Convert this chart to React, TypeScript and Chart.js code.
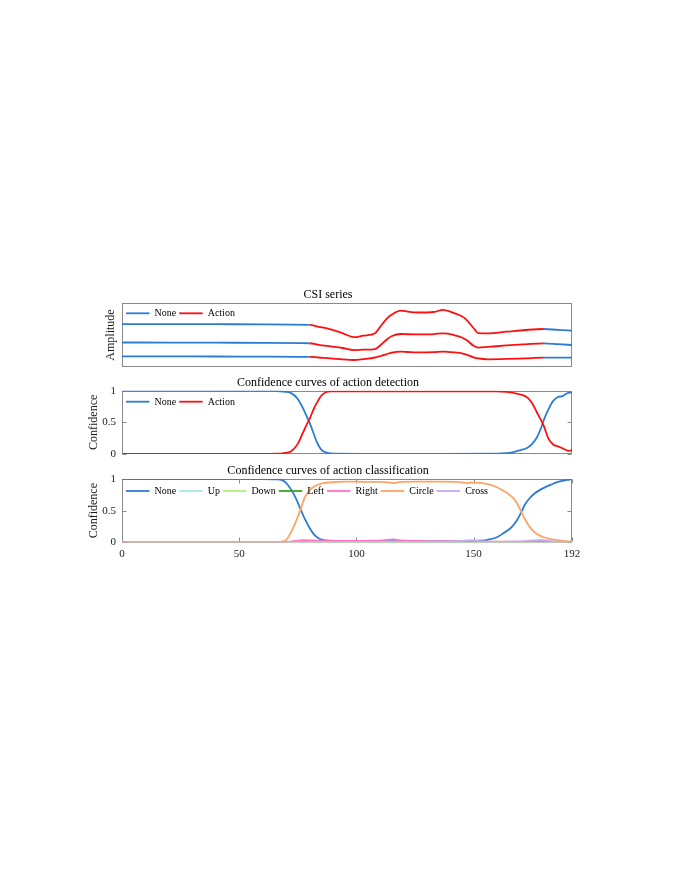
import React, { useEffect, useRef } from 'react';
import { Chart, registerables } from 'chart.js';

Chart.register(...registerables);

// ---------------- data ----------------
const X_MIN = 0;
const X_MAX = 192;
const X_TICKS = [0, 50, 100, 150, 192];
const Y_TICKS = [0, 0.5, 1];
const Y_TICK_LABELS = ['0', '0.5', '1'];

const ACTION_START = 80;
const ACTION_END = 180;

const CSI_X = [0, 20, 40, 60, 80, 84, 89, 94, 99, 103, 108, 110, 113, 115, 119, 122, 126, 133, 137, 139, 142, 145, 147, 150, 152, 156, 164, 172, 180, 186, 192];
const CSI_TOP = [6.73, 6.72, 6.7, 6.68, 6.6, 6.3, 5.9, 5.3, 4.66, 4.9, 5.27, 6.2, 7.6, 8.2, 8.85, 8.68, 8.55, 8.63, 8.95, 8.8, 8.4, 7.95, 7.4, 6.1, 5.3, 5.27, 5.52, 5.79, 5.95, 5.8, 5.68];
const CSI_MID = [3.82, 3.81, 3.79, 3.76, 3.7, 3.45, 3.2, 2.95, 2.63, 2.68, 2.79, 3.3, 4.3, 4.8, 5.16, 5.12, 5.1, 5.15, 5.27, 5.22, 4.95, 4.6, 4.2, 3.3, 3.02, 3.12, 3.35, 3.53, 3.69, 3.55, 3.42];
const CSI_BOT = [1.64, 1.63, 1.61, 1.6, 1.56, 1.45, 1.32, 1.15, 1.06, 1.2, 1.45, 1.65, 2.0, 2.2, 2.37, 2.32, 2.27, 2.3, 2.37, 2.35, 2.25, 2.12, 1.9, 1.48, 1.3, 1.17, 1.22, 1.32, 1.42, 1.42, 1.42];

const DET_X = [0, 20, 40, 60, 66, 69, 72, 75, 77, 79, 80, 82, 83, 85, 87, 89, 92, 100, 120, 140, 160, 164, 167, 170, 173, 175, 177, 179, 180, 182, 184, 186, 188, 190, 191, 192];
const DET_NONE = [1, 1, 1, 0.998, 0.995, 0.985, 0.965, 0.87, 0.74, 0.58, 0.5, 0.3, 0.2, 0.07, 0.025, 0.01, 0.005, 0.003, 0.003, 0.003, 0.006, 0.012, 0.03, 0.06, 0.1, 0.16, 0.26, 0.43, 0.54, 0.71, 0.84, 0.9, 0.915, 0.96, 0.97, 0.975];
const DET_ACTION = [0, 0, 0, 0.002, 0.005, 0.015, 0.04, 0.16, 0.32, 0.48, 0.55, 0.73, 0.8, 0.92, 0.975, 0.99, 0.99, 0.99, 0.99, 0.99, 0.99, 0.98, 0.965, 0.94, 0.89, 0.8, 0.66, 0.52, 0.44, 0.24, 0.15, 0.12, 0.09, 0.055, 0.05, 0.06];

const CLS_X = [0, 20, 40, 60, 66, 68, 70, 72, 74, 76, 78, 80, 82, 84, 86, 88, 92, 96, 100, 105, 110, 114, 116, 118, 125, 135, 143, 147, 149, 152, 156, 160, 163, 166, 168, 170, 172, 174, 176, 178, 180, 183, 186, 189, 191, 192];
const CLS_NONE = [1, 1, 1, 1, 0.995, 0.985, 0.94, 0.84, 0.71, 0.54, 0.37, 0.23, 0.12, 0.06, 0.035, 0.025, 0.02, 0.02, 0.02, 0.02, 0.02, 0.02, 0.02, 0.02, 0.015, 0.015, 0.015, 0.015, 0.018, 0.025, 0.04, 0.08, 0.15, 0.23, 0.32, 0.45, 0.6, 0.7, 0.77, 0.82, 0.86, 0.91, 0.955, 0.98, 0.99, 1.0];
const CLS_UP = [0.004, 0.004, 0.004, 0.004, 0.004, 0.004, 0.004, 0.004, 0.004, 0.004, 0.004, 0.004, 0.004, 0.004, 0.004, 0.004, 0.004, 0.004, 0.004, 0.004, 0.004, 0.004, 0.004, 0.004, 0.004, 0.004, 0.004, 0.004, 0.004, 0.004, 0.004, 0.004, 0.004, 0.004, 0.004, 0.004, 0.004, 0.004, 0.004, 0.004, 0.004, 0.004, 0.004, 0.004, 0.004, 0.004];
const CLS_DOWN = [0.002, 0.002, 0.002, 0.002, 0.002, 0.002, 0.002, 0.002, 0.002, 0.002, 0.002, 0.002, 0.002, 0.002, 0.002, 0.002, 0.002, 0.002, 0.002, 0.002, 0.002, 0.002, 0.002, 0.002, 0.002, 0.002, 0.002, 0.002, 0.002, 0.002, 0.002, 0.002, 0.002, 0.002, 0.002, 0.002, 0.002, 0.002, 0.002, 0.002, 0.002, 0.002, 0.002, 0.002, 0.002, 0.002];
const CLS_LEFT = [0, 0, 0, 0, 0, 0, 0, 0, 0, 0, 0, 0, 0, 0, 0, 0, 0, 0, 0, 0, 0, 0, 0, 0, 0, 0, 0, 0, 0, 0, 0, 0, 0, 0, 0, 0, 0, 0, 0, 0, 0, 0, 0, 0, 0, 0];
const CLS_RIGHT = [0, 0, 0, 0, 0, 0.002, 0.005, 0.012, 0.022, 0.03, 0.033, 0.03, 0.028, 0.026, 0.025, 0.025, 0.024, 0.022, 0.022, 0.024, 0.028, 0.042, 0.045, 0.033, 0.022, 0.018, 0.015, 0.012, 0.012, 0.01, 0.01, 0.012, 0.012, 0.012, 0.01, 0.01, 0.01, 0.01, 0.01, 0.01, 0.008, 0.008, 0.006, 0.005, 0.005, 0.005];
const CLS_CIRCLE = [0, 0, 0, 0, 0.002, 0.01, 0.035, 0.15, 0.31, 0.5, 0.71, 0.82, 0.88, 0.915, 0.935, 0.945, 0.955, 0.957, 0.957, 0.955, 0.955, 0.945, 0.935, 0.95, 0.957, 0.957, 0.955, 0.935, 0.945, 0.94, 0.92, 0.87, 0.81, 0.73, 0.65, 0.51, 0.36, 0.24, 0.16, 0.11, 0.08, 0.05, 0.035, 0.02, 0.015, 0.015];
const CLS_CROSS = [0.004, 0.004, 0.004, 0.004, 0.004, 0.004, 0.004, 0.005, 0.006, 0.006, 0.006, 0.006, 0.006, 0.006, 0.006, 0.006, 0.006, 0.006, 0.006, 0.006, 0.008, 0.01, 0.01, 0.008, 0.006, 0.008, 0.015, 0.03, 0.035, 0.02, 0.01, 0.008, 0.008, 0.01, 0.012, 0.015, 0.02, 0.025, 0.03, 0.035, 0.035, 0.02, 0.012, 0.008, 0.006, 0.006];

const CLASS_LABELS = ['None', 'Up', 'Down', 'Left', 'Right', 'Circle', 'Cross'];
const DET_LABELS = ['None', 'Action'];

// ---------------- styles ----------------
const FONT = "'Liberation Serif', 'Times New Roman', Times, serif";
const BLUE = '#2d7cd4';
const RED = '#ff1010';
const UP_C = '#a8e6e2';
const DOWN_C = '#b4ef78';
const LEFT_C = '#36a420';
const RIGHT_C = '#ff72c6';
const CIRCLE_C = '#ffa464';
const CROSS_C = '#caa8f6';
const CLASS_COLORS = [BLUE, UP_C, DOWN_C, LEFT_C, RIGHT_C, CIRCLE_C, CROSS_C];
const BOX_COLOR = '#8a8a8a';
const TEXT_COLOR = '#1a1a1a';
const LINE_W = 1.8;
const TICK_LEN = 4;

const W = 676;

const pts = (xs: number[], ys: number[]) => xs.map((x, i) => ({ x, y: ys[i] }));

function framePlugin(xMarks: number[], yMarks: number[]) {
  return {
    id: 'frame',
    beforeDatasetsDraw(chart: any) {
      const { ctx, chartArea: a, scales } = chart;
      ctx.save();
      ctx.strokeStyle = BOX_COLOR;
      ctx.lineWidth = 1;
      const l = Math.round(a.left) + 0.5;
      const r = Math.round(a.right) - 0.5;
      const t = Math.round(a.top) + 0.5;
      const b = Math.round(a.bottom) - 0.5;
      ctx.strokeRect(l, t, r - l, b - t);
      ctx.beginPath();
      xMarks.forEach((v) => {
        const px = Math.round(scales.x.getPixelForValue(v)) + 0.5;
        ctx.moveTo(px, b);
        ctx.lineTo(px, b - TICK_LEN);
        ctx.moveTo(px, t);
        ctx.lineTo(px, t + TICK_LEN);
      });
      yMarks.forEach((v) => {
        const py = Math.round(scales.y.getPixelForValue(v)) + 0.5;
        ctx.moveTo(l, py);
        ctx.lineTo(l + TICK_LEN, py);
        ctx.moveTo(r, py);
        ctx.lineTo(r - TICK_LEN, py);
      });
      ctx.stroke();
      ctx.restore();
    },
  };
}

function legendPlugin(items: { text: string; color: string }[], dy: number) {
  return {
    id: 'inLegend',
    afterDatasetsDraw(chart: any) {
      const { ctx, chartArea: a } = chart;
      ctx.save();
      ctx.font = `10px ${FONT}`;
      ctx.textBaseline = 'middle';
      ctx.textAlign = 'left';
      let x = a.left + 4;
      const y = a.top + dy;
      items.forEach((it) => {
        ctx.strokeStyle = it.color;
        ctx.lineWidth = LINE_W;
        ctx.beginPath();
        ctx.moveTo(x, y);
        ctx.lineTo(x + 23.5, y);
        ctx.stroke();
        ctx.fillStyle = '#000';
        ctx.fillText(it.text, x + 28.5, y + 0.5);
        x += 23.5 + 5 + ctx.measureText(it.text).width + 3;
      });
      ctx.restore();
    },
  };
}

const lineDefaults = {
  pointRadius: 0,
  borderWidth: LINE_W,
  fill: false,
  cubicInterpolationMode: 'monotone' as const,
};

function baseOptions(o: {
  title: string;
  padTop: number;
  padBottom: number;
  titleGap: number;
  yTitle: string;
  yTitlePad: number;
  yMax: number;
  showYTicks: boolean;
  showX: boolean;
}): any {
  return {
    responsive: false,
    animation: false,
    events: [],
    layout: { padding: { left: 84, right: 104, top: o.padTop, bottom: o.padBottom } },
    plugins: {
      legend: { display: false },
      tooltip: { enabled: false },
      title: {
        display: true,
        text: o.title,
        color: '#000',
        font: { family: FONT, size: 12, weight: 'normal', lineHeight: 1.2 },
        padding: { top: 0, bottom: o.titleGap },
      },
    },
    scales: {
      x: {
        type: 'linear',
        min: X_MIN,
        max: X_MAX,
        display: o.showX,
        grid: { display: false, drawTicks: false },
        border: { display: false },
        ticks: {
          color: TEXT_COLOR,
          font: { family: FONT, size: 11 },
          padding: 5,
          autoSkip: false,
          maxRotation: 0,
        },
        afterBuildTicks: (s: any) => {
          s.ticks = X_TICKS.map((v) => ({ value: v }));
        },
        afterFit: (s: any) => {
          s.height = o.showX ? 20 : 0;
        },
      },
      y: {
        type: 'linear',
        min: 0,
        max: o.yMax,
        grid: { display: false, drawTicks: false },
        border: { display: false },
        ticks: {
          display: o.showYTicks,
          color: TEXT_COLOR,
          font: { family: FONT, size: 11 },
          padding: 6,
          callback: (v: number) => {
            const i = Y_TICKS.indexOf(v);
            return i >= 0 ? Y_TICK_LABELS[i] : '';
          },
        },
        afterBuildTicks: (s: any) => {
          if (o.showYTicks) s.ticks = Y_TICKS.map((v) => ({ value: v }));
        },
        title: {
          display: true,
          text: o.yTitle,
          color: TEXT_COLOR,
          font: { family: FONT, size: 12, lineHeight: 1.2 },
          padding: { top: o.yTitlePad, bottom: 0 },
        },
        afterFit: (s: any) => {
          s.width = 38;
        },
      },
    },
  };
}

function csiConfig(): any {
  const seg = {
    borderColor: (c: any) =>
      c.p0.parsed.x >= ACTION_START && c.p1.parsed.x <= ACTION_END ? RED : BLUE,
  };
  return {
    type: 'line',
    data: {
      datasets: [
        { label: 'CSI 1', data: pts(CSI_X, CSI_TOP), borderColor: BLUE, segment: seg, ...lineDefaults },
        { label: 'CSI 2', data: pts(CSI_X, CSI_MID), borderColor: BLUE, segment: seg, ...lineDefaults },
        { label: 'CSI 3', data: pts(CSI_X, CSI_BOT), borderColor: BLUE, segment: seg, ...lineDefaults },
      ],
    },
    options: baseOptions({
      title: 'CSI series',
      padTop: 10.1,
      padBottom: 11.3,
      titleGap: 0.8,
      yTitle: 'Amplitude',
      yTitlePad: 19.8,
      yMax: 10,
      showYTicks: false,
      showX: false,
    }),
    plugins: [
      framePlugin([], []),
      legendPlugin(
        [
          { text: DET_LABELS[0], color: BLUE },
          { text: DET_LABELS[1], color: RED },
        ],
        10
      ),
    ],
  };
}

function detConfig(): any {
  const series = [DET_NONE, DET_ACTION];
  const colors = [BLUE, RED];
  return {
    type: 'line',
    data: {
      datasets: series.map((s, i) => ({
        label: DET_LABELS[i],
        data: pts(DET_X, s),
        borderColor: colors[i],
        order: series.length - 1 - i,
        ...lineDefaults,
      })),
    },
    options: baseOptions({
      title: 'Confidence curves of action detection',
      padTop: 4.1,
      padBottom: 14,
      titleGap: 0.2,
      yTitle: 'Confidence',
      yTitlePad: 2.8,
      yMax: 1,
      showYTicks: true,
      showX: false,
    }),
    plugins: [
      framePlugin([], Y_TICKS),
      legendPlugin(DET_LABELS.map((t, i) => ({ text: t, color: colors[i] })), 11),
    ],
  };
}

function clsConfig(): any {
  const series = [CLS_NONE, CLS_UP, CLS_DOWN, CLS_LEFT, CLS_RIGHT, CLS_CIRCLE, CLS_CROSS];
  return {
    type: 'line',
    data: {
      datasets: series.map((s, i) => ({
        label: CLASS_LABELS[i],
        data: pts(CLS_X, s),
        borderColor: CLASS_COLORS[i],
        order: series.length - 1 - i,
        ...lineDefaults,
      })),
    },
    options: baseOptions({
      title: 'Confidence curves of action classification',
      padTop: 3.6,
      padBottom: 9.7,
      titleGap: 1.0,
      yTitle: 'Confidence',
      yTitlePad: 2.8,
      yMax: 1,
      showYTicks: true,
      showX: true,
    }),
    plugins: [
      framePlugin(X_TICKS, Y_TICKS),
      legendPlugin(CLASS_LABELS.map((t, i) => ({ text: t, color: CLASS_COLORS[i] })), 12),
    ],
  };
}

function ChartCanvas({ top, height, make }: { top: number; height: number; make: () => any }) {
  const ref = useRef<HTMLCanvasElement>(null);
  useEffect(() => {
    const chart = new Chart(ref.current as HTMLCanvasElement, make());
    return () => chart.destroy();
  }, []);
  return (
    <canvas
      ref={ref}
      width={W}
      height={height}
      style={{ position: 'absolute', left: 0, top, width: W, height, display: 'block' }}
    />
  );
}

export default function App() {
  return (
    <div style={{ position: 'absolute', left: 0, top: 0, width: W, height: 872, background: '#fff' }}>
      <ChartCanvas top={278} height={100} make={csiConfig} />
      <ChartCanvas top={372} height={96} make={detConfig} />
      <ChartCanvas top={460} height={112} make={clsConfig} />
    </div>
  );
}
